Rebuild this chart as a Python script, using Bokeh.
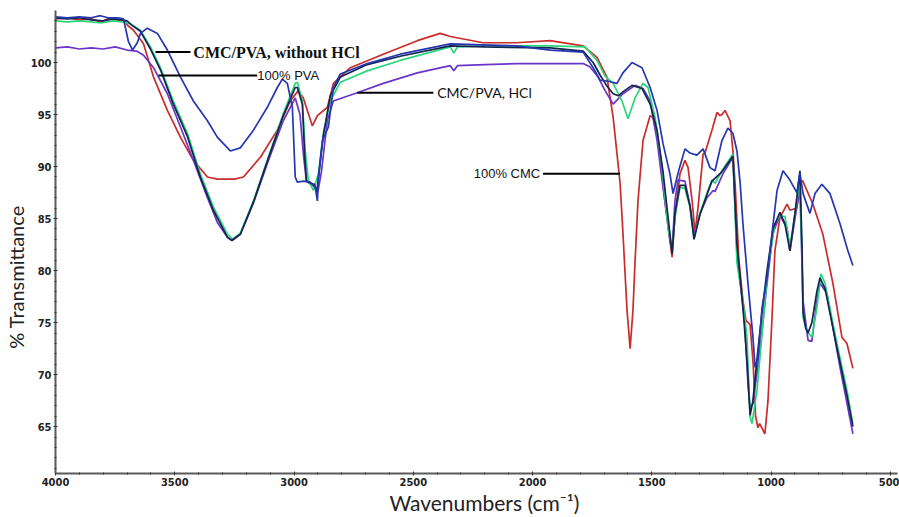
import math
from bokeh.plotting import figure
from bokeh.models import Range1d, Label, FixedTicker
from bokeh.embed import file_html
from bokeh.resources import INLINE

# ---- data: (wavenumber cm-1, % transmittance) ----
CMC_100 = [(4000,104.2),(3950,104.3),(3900,104.1),(3850,104.2),(3810,103.9),(3780,104.2),(3740,104.1),(3710,104.0),
    (3699,103.6),(3673,103.1),(3631,101.8),(3589,98.6),(3531,95.4),(3476,92.8),(3422,90.6),(3363,89.0),(3321,88.8),
    (3250,88.8),(3212,89.0),(3141,90.9),(3070,93.5),(3016,96.3),(2982,97.3),(2961,96.6),(2940,95.1),(2923,93.9),
    (2902,94.9),(2860,95.7),(2835,98.0),(2764,99.5),(2626,100.8),(2483,102.1),(2387,102.8),(2345,102.5),(2207,101.9),
    (2067,101.9),(1926,102.1),(1788,101.6),(1746,100.8),(1730,100.5),(1688,98.6),(1662,94.7),(1633,88.4),(1621,83.6),
    (1604,76.2),(1591,72.5),(1579,76.2),(1570,81.0),(1558,86.7),(1537,92.5),(1507,94.9),(1495,94.7),(1474,92.5),
    (1445,86.7),(1424,82.9),(1415,81.3),(1403,85.1),(1382,89.3),(1361,90.6),(1348,89.9),(1331,86.7),(1319,83.6),
    (1306,86.1),(1285,91.2),(1277,91.3),(1248,93.5),(1227,95.2),(1214,94.9),(1206,95.0),(1193,95.4),(1172,94.4),
    (1160,91.5),(1150,88.0),(1135,81.0),(1118,77.1),(1105,75.2),(1088,74.8),(1075,71.0),(1065,66.0),(1055,64.9),
    (1048,65.3),(1026,64.3),(1013,67.5),(996,75.5),(984,81.9),(963,85.1),(933,86.4),(921,85.8),(892,86.0),(879,88.7),
    (867,88.6),(825,86.4),(783,83.5),(741,78.8),(703,73.6),(682,73.0),(657,70.6)]

PVA_100 = [(4000,104.4),(3950,104.3),(3900,104.4),(3850,104.3),(3812,104.5),(3780,104.3),(3740,104.3),(3715,104.2),
    (3694,102.0),(3677,101.2),(3657,101.9),(3644,102.8),(3615,103.3),(3573,102.8),(3531,101.2),(3476,98.6),(3422,96.3),
    (3363,94.4),(3321,92.8),(3267,91.5),(3225,91.8),(3170,93.5),(3112,95.7),(3070,97.6),(3049,98.4),(3028,98.0),
    (3007,95.7),(2995,89.0),(2986,88.5),(2960,88.6),(2932,88.5),(2911,88.0),(2902,86.7),(2898,88.7),(2881,92.5),
    (2856,93.8),(2835,97.6),(2806,98.9),(2693,99.9),(2555,100.8),(2345,101.8),(2207,101.7),(2067,101.6),(1926,101.2),
    (1788,101.0),(1746,99.5),(1717,98.3),(1683,98.2),(1646,98.0),(1621,99.0),(1583,100.0),(1541,99.5),(1507,97.6),
    (1478,95.4),(1453,92.2),(1424,89.3),(1411,87.4),(1395,88.9),(1385,89.8),(1361,91.7),(1340,91.3),(1311,91.1),
    (1285,91.7),(1256,89.9),(1235,89.6),(1206,92.5),(1181,93.7),(1160,93.2),(1143,91.5),(1130,88.5),(1118,84.5),
    (1097,78.8),(1076,73.6),(1067,70.7),(1055,71.6),(1038,76.4),(1017,79.3),(996,83.6),(975,87.7),(950,89.6),
    (921,88.7),(892,87.5),(879,89.4),(866,87.4),(837,85.5),(816,87.4),(787,88.3),(753,87.4),(711,84.5),(678,81.9),
    (657,80.5)]

GREEN_BLEND = [(4000,104.0),(3950,103.9),(3900,104.0),(3850,103.9),(3810,103.8),(3760,104.0),(3720,103.9),(3686,103.7),
    (3644,103.1),(3602,101.5),(3560,99.5),(3506,96.3),(3447,93.2),(3393,89.3),(3338,86.1),(3279,83.5),(3258,83.0),
    (3225,83.6),(3170,86.7),(3112,90.6),(3045,95.1),(2995,98.0),(2986,98.1),(2965,96.3),(2953,91.5),(2940,88.7),
    (2919,87.7),(2898,89.3),(2877,93.2),(2848,96.3),(2806,98.1),(2693,99.2),(2555,100.2),(2345,101.5),(2330,100.9),
    (2315,101.5),(2200,101.6),(1926,101.6),(1780,101.5),(1730,100.2),(1696,98.7),(1662,98.0),(1625,96.3),(1600,94.6),
    (1570,96.6),(1537,98.0),(1516,97.6),(1486,94.7),(1457,89.9),(1432,84.1),(1415,82.1),(1403,85.1),(1382,88.0),
    (1361,87.9),(1340,86.1),(1323,83.1),(1298,85.5),(1269,87.4),(1248,88.7),(1235,88.4),(1206,89.6),(1160,91.2),
    (1143,80.7),(1118,77.1),(1101,73.6),(1088,65.9),(1080,65.3),(1059,68.5),(1038,73.9),(1013,80.3),(984,84.5),
    (963,85.3),(942,85.2),(921,82.2),(892,86.7),(879,88.7),(871,81.9),(866,75.5),(850,74.2),(829,73.6),(808,76.4),
    (791,79.7),(774,78.8),(724,73.0),(682,68.5),(657,65.3)]

CMC_PVA_HCL = [(4000,101.4),(3950,101.5),(3900,101.3),(3850,101.4),(3800,101.3),(3750,101.5),(3700,101.2),(3660,101.1),
    (3631,100.7),(3589,99.5),(3531,97.0),(3476,93.8),(3422,90.6),(3363,87.0),(3321,84.6),(3279,83.2),(3258,82.9),
    (3225,83.5),(3170,86.5),(3112,90.3),(3045,94.4),(2995,96.6),(2975,95.0),(2960,91.0),(2948,88.6),(2930,88.3),
    (2910,88.0),(2900,87.6),(2885,89.5),(2860,94.5),(2835,96.3),(2735,97.1),(2626,98.0),(2483,99.0),(2345,99.7),
    (2330,99.2),(2315,99.7),(2200,99.8),(2067,99.9),(1926,99.9),(1788,99.9),(1760,99.6),(1725,98.6),(1696,97.3),
    (1662,96.0),(1621,97.0),(1570,97.8),(1537,97.5),(1507,96.3),(1478,92.5),(1453,88.0),(1424,82.9),(1415,81.9),
    (1403,86.7),(1390,88.7),(1361,88.6),(1340,86.3),(1323,83.4),(1298,85.5),(1269,87.0),(1243,87.7),(1235,87.6),
    (1202,89.3),(1160,90.9),(1143,81.6),(1110,74.9),(1097,69.1),(1088,66.8),(1076,67.2),(1047,72.3),(1017,78.8),
    (992,83.6),(963,85.3),(933,84.1),(921,81.9),(892,86.1),(879,87.7),(866,77.1),(845,73.3),(829,73.2),(808,77.1),
    (795,78.8),(766,77.8),(711,70.7),(657,64.3)]

CMC_PVA_NO_HCL = [(4000,104.3),(3950,104.2),(3900,104.3),(3850,104.1),(3800,104.0),(3760,104.2),(3720,104.1),(3700,104.0),
    (3680,103.6),(3644,103.0),(3602,101.3),(3560,99.3),(3506,96.0),(3447,92.9),(3393,89.0),(3338,85.8),(3279,83.2),
    (3262,82.9),(3225,83.5),(3170,86.6),(3112,90.5),(3045,94.9),(2995,97.6),(2986,97.6),(2965,96.0),(2955,91.0),
    (2948,88.6),(2930,88.4),(2915,88.3),(2905,87.5),(2895,89.5),(2877,93.0),(2848,96.8),(2806,98.6),(2693,99.8),
    (2555,100.6),(2345,101.6),(2200,101.5),(1926,101.4),(1788,101.1),(1746,100.0),(1717,98.8),(1690,97.8),(1662,97.0),
    (1640,96.8),(1620,97.2),(1583,97.8),(1541,97.5),(1507,96.0),(1478,93.5),(1453,89.5),(1424,83.5),(1415,81.6),
    (1403,85.5),(1382,88.2),(1361,88.2),(1340,86.2),(1323,83.0),(1298,85.4),(1269,87.3),(1248,88.6),(1206,89.5),
    (1160,91.0),(1143,82.5),(1118,76.5),(1100,71.0),(1088,66.1),(1076,67.5),(1059,71.5),(1038,76.0),(1017,80.0),
    (992,84.0),(963,85.6),(942,84.5),(921,81.9),(900,85.5),(879,89.6),(870,82.0),(866,76.0),(855,74.5),(845,74.0),
    (829,75.0),(808,78.0),(795,79.3),(774,78.3),(724,72.6),(682,68.0),(657,65.0)]

X_TICKS = [4000, 3500, 3000, 2500, 2000, 1500, 1000, 500]
Y_TICKS = [65, 70, 75, 80, 85, 90, 95, 100]

# ---- figure ----
p = figure(width=899, height=517, output_backend="svg", toolbar_location=None,
           x_range=Range1d(4000, 470), y_range=Range1d(60.5, 105),
           min_border_left=55, min_border_right=2, min_border_top=10, min_border_bottom=44)
p.outline_line_color = None
p.xgrid.visible = False
p.ygrid.visible = False
p.background_fill_color = "white"

series = [
    (CMC_100, "#cc2b2b"),
    (CMC_PVA_HCL, "#6a35c8"),
    (GREEN_BLEND, "#2bd67b"),
    (CMC_PVA_NO_HCL, "#14244f"),
    (PVA_100, "#2436b0"),
]
for data, col in series:
    xs = [d[0] for d in data]
    ys = [d[1] for d in data]
    p.line(xs, ys, line_color=col, line_width=1.7)

tick_font = "'Liberation Sans Narrow', 'DejaVu Sans Condensed', sans-serif"
for ax in (p.xaxis[0], p.yaxis[0]):
    ax.axis_line_color = "#5a5a5a"
    ax.axis_line_width = 2
    ax.major_tick_line_color = "#333333"
    ax.minor_tick_line_color = "#333333"
    ax.major_tick_in = 2
    ax.major_tick_out = 2
    ax.minor_tick_in = 1
    ax.minor_tick_out = 1
    ax.major_label_text_font = tick_font
    ax.major_label_text_font_size = "11px"
    ax.major_label_text_font_style = "bold"
    ax.major_label_text_color = "#222222"
    ax.major_label_standoff = 2
    ax.axis_label_text_font = "Lato"
    ax.axis_label_text_font_size = "21px"
    ax.axis_label_text_font_style = "normal"
    ax.axis_label_text_color = "#222222"
    ax.axis_label_standoff = 1
p.yaxis[0].axis_label_standoff = 0
p.yaxis[0].axis_label_text_font_size = "20px"
p.xaxis[0].ticker = FixedTicker(ticks=X_TICKS, minor_ticks=list(range(500, 4001, 100)))
p.yaxis[0].ticker = FixedTicker(ticks=Y_TICKS, minor_ticks=list(range(61, 105)))

# axis titles (padding spaces shift the centred text to where the original sits)
p.yaxis[0].axis_label = "% Transmittance\u2003\u2003\u2003\u2003\u2002"
p.xaxis[0].axis_label = "\u2003Wavenumbers (cm\u207b\u00b9)"

# callout leader lines
p.segment(x0=[3581, 3568, 2735, 1956], y0=[101.0, 98.75, 97.1, 89.3],
          x1=[3434, 3154, 2416, 1633], y1=[101.0, 98.75, 97.1, 89.3],
          line_color="black", line_width=2)

p.add_layout(Label(x=3422, y=101.0, text="CMC/PVA, without HCl", text_baseline="middle",
                   text_font="Liberation Serif", text_font_style="bold", text_font_size="16px",
                   text_color="#111111"))
p.add_layout(Label(x=3154, y=98.75, text="100% PVA", text_baseline="middle",
                   text_font="Liberation Sans", text_font_size="13px", text_color="#111111"))
p.add_layout(Label(x=2400, y=97.1, text="CMC/PVA, HCl", text_baseline="middle",
                   text_font="Lato", text_font_size="14px", text_color="#111111"))
p.add_layout(Label(x=1968, y=89.3, text="100% CMC", text_baseline="middle", text_align="right",
                   text_font="Liberation Sans", text_font_size="13px", text_color="#111111"))

open("out.html", "w").write(file_html(p, INLINE))
